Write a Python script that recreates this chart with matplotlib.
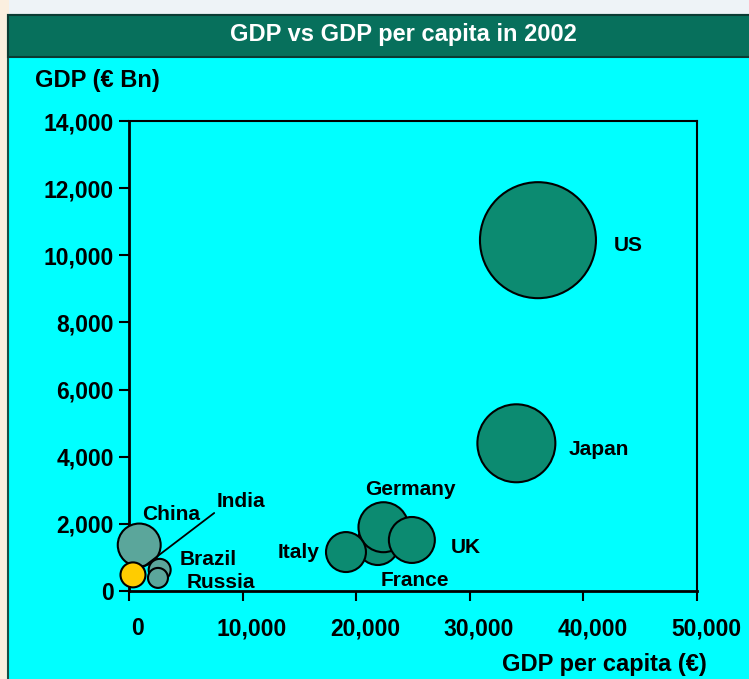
import matplotlib
matplotlib.use("Agg")
import matplotlib.pyplot as plt
from matplotlib.patches import Rectangle
from matplotlib.ticker import FuncFormatter
from matplotlib.transforms import ScaledTranslation

plt.rcParams['font.family'] = ['Liberation Sans', 'DejaVu Sans']
plt.rcParams['font.weight'] = 'bold'

# ---- data ----
countries = ["US", "Japan", "France", "Germany", "UK", "Italy", "China", "Brazil", "Russia", "India"]
gdp_per_capita = [36000, 34100, 21900, 22400, 24900, 19100, 900, 2700, 2550, 350]
gdp = [10450, 4400, 1400, 1900, 1520, 1160, 1370, 630, 390, 480]
bubble_size = [10450, 4720, 1370, 1940, 1640, 1240, 1430, 375, 310, 485]
groups = ["dev", "dev", "dev", "dev", "dev", "dev", "emg", "emg", "emg", "ind"]
x_ticks = [0, 10000, 20000, 30000, 40000, 50000]
y_ticks = [0, 2000, 4000, 6000, 8000, 10000, 12000, 14000]

title = "GDP vs GDP per capita in 2002"
y_label = "GDP (€ Bn)"
x_label = "GDP per capita (€)"

# ---- styles ----
group_colors = {"dev": "#0c8b71", "emg": "#5ba69b", "ind": "#ffcc00"}
# label offsets in pixels (dx, dy up) relative to bubble centre
label_offsets = {
    "US": (90, -5), "Japan": (82, -6), "Germany": (27, 38), "France": (37, -36),
    "UK": (54, -8), "Italy": (-47, 0), "China": (32, 31), "Brazil": (49, 10),
    "Russia": (63, -5),
}

W, H = 749, 679
fig = plt.figure(figsize=(W / 100, H / 100), dpi=100)
fig.patch.set_facecolor("#eef3f7")

def px_rect(x0, y0, x1, y1, **kw):
    fig.patches.append(Rectangle((x0 / W, 1 - y1 / H), (x1 - x0) / W, (y1 - y0) / H,
                                 transform=fig.transFigure, figure=fig, zorder=-5, **kw))

# left beige strip
px_rect(0, 0, 9, H, facecolor="#fbefdf", edgecolor="none")
# panel
px_rect(8, 15, W + 2, H + 2, facecolor="#00ffff", edgecolor="#1a4f45", linewidth=1.5)
# title band
px_rect(8, 15, W + 2, 57, facecolor="#07705c", edgecolor="#0b3b33", linewidth=1.5)
fig.text(403 / W, 1 - 34 / H, title, color="white", fontsize=17,
         fontweight="bold", ha="center", va="center")

ax = fig.add_axes([129 / W, (H - 591) / H, 568 / W, 470 / H])
ax.set_facecolor("none")
ax.set_xlim(0, 50000)
ax.set_ylim(0, 14000)

colors = [group_colors[g] for g in groups]
k = (58 * 1.44) ** 2 / bubble_size[0]
ax.scatter(gdp_per_capita, gdp, s=[b * k for b in bubble_size], c=colors,
           edgecolors="black", linewidths=1.5, zorder=3, clip_on=False)

to_pt = 0.72
for name, x, y in zip(countries, gdp_per_capita, gdp):
    if name in label_offsets:
        dx, dy = label_offsets[name]
        ax.annotate(name, (x, y), xytext=(dx * to_pt, dy * to_pt), textcoords="offset points",
                    ha="center", va="center", fontsize=15, fontweight="bold", zorder=5)

# India with leader line
i = countries.index("India")
ax.annotate("India", (gdp_per_capita[i], gdp[i]), xytext=(84 * to_pt, 64 * to_pt),
            textcoords="offset points", ha="left", va="bottom", fontsize=15,
            fontweight="bold", zorder=5,
            arrowprops=dict(arrowstyle="-", color="black", lw=1.3, relpos=(0, 0),
                            shrinkA=0, shrinkB=13 * to_pt))

for side in ["left", "bottom"]:
    ax.spines[side].set_linewidth(2)
for side in ["top", "right"]:
    ax.spines[side].set_linewidth(1.5)
ax.set_xticks(x_ticks)
ax.set_yticks(y_ticks)
ax.xaxis.set_major_formatter(FuncFormatter(lambda v, p: f"{int(v):,}"))
ax.yaxis.set_major_formatter(FuncFormatter(lambda v, p: f"{int(v):,}"))
ax.tick_params(axis="x", direction="out", length=7, width=1.5, pad=12, labelsize=16.5)
ax.tick_params(axis="y", direction="out", length=7, width=1.5, pad=4, labelsize=16.5)
shift = ScaledTranslation(0.09, 0, fig.dpi_scale_trans)
for lab in ax.get_xticklabels():
    lab.set_transform(lab.get_transform() + shift)
for lab in ax.get_xticklabels() + ax.get_yticklabels():
    lab.set_fontweight("bold")

fig.text(35 / W, 1 - 80 / H, y_label, fontsize=17, fontweight="bold", ha="left", va="center")
fig.text(707 / W, 1 - 664 / H, x_label, fontsize=17, fontweight="bold", ha="right", va="center")

fig.savefig("out.png", dpi=100)
